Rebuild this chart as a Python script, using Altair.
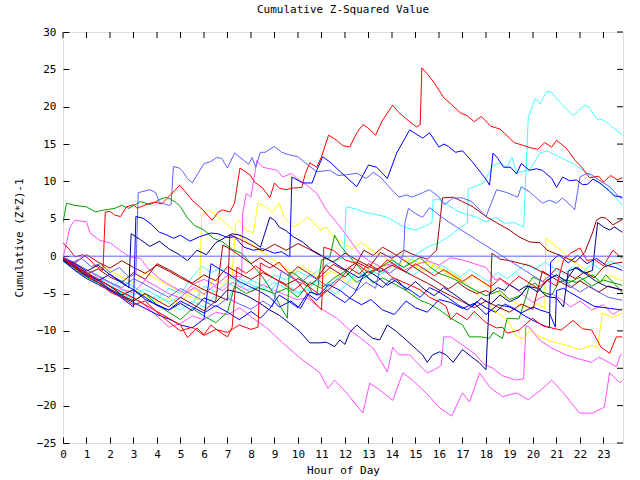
import altair as alt
import pandas as pd

X_TICKS = list(range(0, 24))
Y_TICKS = list(range(-25, 31, 5))

R1 = [(0,1.8),(0.3,0.8),(0.5,-0.1),(0.85,0.2),(1.15,-0.5),(1.35,-1.2),(1.7,-1.9),(1.8,5.9),(2.0,6.0),(2.2,5.5),(2.45,5.3),(2.7,6.6),(3.0,6.9),(3.15,6.4),(3.7,7.1),(3.95,7.2),(4.2,7.0),(4.45,7.8),(4.97,9.5),(5.5,7.5),(5.95,6.2),(6.35,4.8),(6.6,5.9),(6.8,6.2),(7.1,5.9),(7.3,7.1),(7.4,9.2),(7.53,11.8),(7.95,10.9),(8.16,9.9),(8.5,9.1),(8.8,7.8),(9.0,9.8),(9.2,9.1),(9.5,8.9),(9.74,9.1),(10.16,9.2),(10.3,10.9),(10.5,12.5),(10.8,11.9),(11.0,13.3),(11.3,16.2),(11.65,15.5),(11.9,14.8),(12.2,14.6),(12.5,16.5),(12.76,17.6),(12.97,17.2),(13.3,16.2),(13.6,18.2),(14.03,20.2),(14.3,19.2),(14.75,18.0),(15.05,17.3),(15.2,17.6),(15.27,25.2),(15.5,24.4),(15.8,23.2),(16.2,21.2),(16.5,20.4),(16.9,19.2),(17.2,18.8),(17.5,18.0),(17.8,18.7),(18.2,17.4),(18.6,17.0),(19.2,15.2),(19.6,14.8),(19.9,14.5),(20.2,14.3),(20.5,15.2),(20.8,14.6),(21.0,15.5),(21.4,14.5),(21.8,12.8),(22.1,11.8),(22.4,10.5),(22.6,10.6),(22.8,10.7),(23.0,9.9),(23.3,10.8),(23.6,10.2),(23.8,10.5)]

B1 = [(0,-0.2),(0.5,-1.2),(1,-2.4),(1.5,-3.2),(2,-4.5),(2.5,-5.6),(3.0,-6.8),(3.1,5.3),(3.4,5.1),(3.75,4.3),(4.1,3.2),(4.3,3.0),(4.7,2.4),(5.0,2.8),(5.4,2.0),(5.8,2.6),(6.3,3.1),(6.6,3.0),(7.0,2.5),(7.3,2.6),(7.7,1.2),(8.1,0.8),(8.5,1.0),(9.0,0.4),(9.3,0.6),(9.65,-0.1),(9.74,10.6),(10.2,9.8),(10.6,9.8),(10.8,11.5),(11.05,13.3),(11.4,12.5),(11.8,11.3),(12.5,9.3),(13.0,12.2),(13.35,11.9),(13.8,10.4),(14.2,13.8),(14.75,16.9),(15.3,15.8),(15.6,16.5),(16.0,14.6),(16.2,15.0),(16.4,14.7),(16.7,13.9),(17.0,14.1),(17.4,12.7),(17.8,11.1),(18.0,10.3),(18.15,9.5),(18.3,13.8),(18.5,13.1),(18.75,11.9),(19.05,11.9),(19.3,11.0),(19.5,12.4),(19.85,11.5),(20.15,11.7),(20.4,11.5),(20.8,10.4),(21.0,9.2),(21.26,10.6),(21.55,10.1),(21.85,10.2),(22.1,9.6),(22.3,9.6),(22.55,10.3),(22.85,9.8),(23.25,8.7),(23.45,8.1),(23.8,7.9)]

P1 = [(0,-0.2),(0.4,-0.8),(0.8,-0.3),(1.2,-1.4),(1.6,-1.0),(2.0,-2.2),(2.4,-1.5),(2.8,-2.8),(3.1,-2.4),(3.2,8.5),(3.7,8.9),(3.95,8.5),(4.1,7.2),(4.5,6.8),(4.6,6.9),(4.7,12.0),(4.95,11.8),(5.1,11.3),(5.3,10.4),(5.5,9.8),(5.75,11.1),(6.0,12.4),(6.25,12.6),(6.55,13.2),(6.75,13.1),(7.0,11.8),(7.3,13.8),(7.7,12.8),(7.9,12.3),(8.05,13.2),(8.2,11.9),(8.4,13.9),(8.6,13.9),(9.0,14.7),(9.3,13.9),(9.6,13.6),(10.0,13.3),(10.3,12.5),(10.8,11.3),(11.35,11.5),(11.7,10.8),(12.05,10.9),(12.5,11.1),(12.9,10.4),(13.2,11.2),(13.5,10.6),(13.9,9.2),(14.3,7.9),(14.6,8.2),(14.85,7.9),(15.3,8.5),(15.6,8.9),(16.0,7.9),(16.24,6.9),(16.6,7.8),(17.0,7.8),(17.4,7.3),(18.0,5.3),(18.45,8.9),(18.9,8.5),(19.35,7.9),(19.5,9.3),(19.85,8.6),(20.4,7.1),(20.7,7.5),(21.0,7.1),(21.26,7.8),(21.7,6.5),(21.77,6.2),(22.0,10.6),(22.3,11.1),(22.5,10.9),(22.8,10.2),(23.26,9.3),(23.68,7.9),(23.8,7.7)]

C1 = [(0,-0.4),(0.5,-1.3),(1,-2.1),(1.5,-3.0),(2,-3.6),(2.5,-4.5),(3,-5.2),(3.5,-4.4),(4,-5.3),(4.5,-6.1),(5,-5.5),(5.5,-6.4),(6,-4.0),(6.5,-4.8),(7,-3.6),(7.5,-4.3),(8,-3.2),(8.5,-3.9),(9,-2.5),(9.5,-3.2),(10,-2.0),(10.5,-2.8),(11,-1.5),(11.5,-0.6),(11.95,-0.2),(12.05,6.6),(12.5,6.3),(12.8,5.9),(13.3,5.6),(13.8,5.2),(14.2,4.5),(14.5,3.9),(15.0,3.5),(15.4,4.0),(15.7,4.5),(15.75,7.5),(16.0,7.6),(16.4,6.8),(16.8,6.0),(17.2,5.6),(17.6,5.2),(18.0,4.6),(18.4,5.2),(18.8,4.4),(19.2,4.5),(19.6,3.9),(19.8,18.6),(20.1,21.1),(20.3,20.4),(20.6,22.1),(20.8,21.9),(21.2,20.4),(21.7,18.8),(22.2,20.2),(22.4,19.9),(22.7,18.4),(23.0,18.2),(23.3,17.5),(23.8,16.2)]

C2 = [(0,-0.5),(0.5,-1.6),(1,-2.6),(1.5,-3.4),(2,-4.1),(2.5,-5.0),(3,-5.8),(3.5,-6.5),(4,-5.2),(4.5,-6.3),(5,-7.2),(5.5,-6.0),(6,-6.8),(6.5,-5.2),(7,-5.9),(7.5,-3.0),(8,-3.8),(8.5,-4.5),(9,-3.5),(9.5,-4.3),(10,-5.0),(10.4,-4.5),(10.8,-3.2),(11.05,-4.1),(11.5,-3.5),(12,-2.2),(12.5,-3.0),(13,-1.8),(13.5,-2.5),(14,-0.8),(14.5,-1.5),(15,0.2),(15.5,1.2),(16,1.8),(16.5,2.8),(16.8,3.6),(17.2,4.5),(17.25,9.0),(17.6,9.4),(17.9,9.8),(18.3,12.1),(18.6,12.5),(18.9,11.9),(19.1,13.3),(19.3,11.1),(19.6,11.4),(19.85,11.5),(20.3,13.8),(20.6,14.1),(21.1,13.3),(21.7,12.4),(22.3,11.1),(22.8,9.8),(23.25,8.9),(23.8,6.8)]

C3 = [(0,-0.6),(0.5,-1.7),(1,-2.8),(1.5,-3.6),(2,-4.3),(2.5,-3.2),(3,-4.1),(3.5,-5.0),(4,-5.8),(4.5,-4.3),(5,-5.0),(5.5,-2.8),(5.9,-1.3),(6.3,-2.2),(6.7,-1.6),(7.1,-2.8),(7.5,-3.6),(7.8,-4.5),(8.4,-3.9),(8.8,-4.8),(9.2,-3.2),(9.6,-4.0),(10.0,-4.8),(10.4,-4.5),(10.8,-5.3),(11.2,-4.2),(11.6,-5.0),(12.0,-4.0),(12.5,-2.0),(12.9,-2.8),(13.3,-1.5),(13.7,-2.3),(14.1,-1.0),(14.5,-1.8),(14.9,-2.6),(15.3,-1.5),(15.7,-2.3),(16.1,-1.2),(16.5,-2.0),(16.9,-2.8),(17.3,-1.8),(17.7,-2.6),(18.1,-3.4),(18.5,-2.2),(18.9,-3.0),(19.3,-2.0),(19.7,-1.0),(20.1,-1.8),(20.5,-0.8),(20.9,-1.6),(21.3,-2.4),(21.7,-1.4),(22.1,-2.2),(22.5,-1.0),(22.9,-1.8),(23.3,-0.6),(23.8,-1.4)]

M1 = [(0,-0.4),(0.5,-1.5),(1,-2.5),(1.5,-3.2),(2,-4.0),(2.5,-4.8),(3,-5.5),(3.5,-6.6),(4,-8.0),(4.5,-9.5),(5,-9.0),(5.5,-8.0),(6,-8.5),(6.5,-7.5),(7.0,-7.8),(7.53,-6.9),(8.08,-8.3),(8.67,-9.6),(9.35,-11.6),(10.08,-13.6),(10.93,-15.6),(11.27,-17.7),(11.56,-16.6),(12.07,-18.3),(12.76,-21.0),(13.05,-17.0),(13.48,-17.9),(14.03,-19.3),(14.46,-15.6),(14.88,-16.6),(15.48,-18.4),(16.03,-20.3),(16.54,-21.4),(17.0,-18.3),(17.3,-19.5),(17.73,-15.6),(18.15,-17.5),(18.7,-18.8),(19.3,-18.3),(19.8,-19.2),(20.3,-18.0),(20.8,-16.6),(21.26,-18.2),(21.98,-21.0),(22.53,-21.0),(23.04,-20.2),(23.26,-15.6),(23.68,-16.9),(23.8,-16.7)]

M2 = [(0,-0.3),(0.3,3.9),(0.5,4.8),(1.0,4.6),(1.15,3.1),(1.57,2.1),(2.0,1.8),(2.42,0.8),(2.85,-0.1),(3.3,-0.3),(3.6,-1.6),(3.85,-2.3),(4.1,-3.0),(4.4,-3.6),(4.8,-4.3),(5.2,-5.0),(5.6,-4.2),(6.0,-5.1),(6.4,-4.0),(6.8,-4.6),(7.2,-3.5),(7.6,-4.2),(8.0,-4.8),(8.5,-3.8),(8.93,-4.5),(9.95,-5.8),(10.4,-5.6),(10.93,-6.9),(11.65,-8.3),(12.2,-9.9),(12.6,-10.8),(13.2,-12.3),(13.8,-15.5),(14.03,-12.2),(14.3,-13.2),(14.75,-13.2),(15.05,-14.2),(15.5,-15.6),(15.8,-15.2),(16.1,-14.6),(16.2,-10.8),(16.5,-10.8),(17.0,-11.9),(17.5,-13.0),(17.9,-14.4),(18.3,-15.0),(18.7,-16.0),(19.3,-16.6),(19.6,-16.4),(19.7,-9.3),(19.85,-9.5),(20.3,-11.3),(20.8,-12.3),(21.4,-13.2),(22.0,-13.8),(22.5,-14.2),(22.8,-13.5),(23.1,-14.0),(23.55,-14.8),(23.7,-13.3),(23.8,-13.1)]

M4 = [(0,-0.3),(0.5,-1.1),(1,-1.8),(1.5,-2.8),(2,-3.5),(2.5,-4.4),(3,-4.9),(3.5,-3.2),(4,-4.1),(4.5,-5.0),(5,-5.6),(5.5,-3.8),(6,-3.1),(6.5,-3.9),(7,-2.6),(7.6,-2.8),(7.65,5.8),(7.8,8.4),(8.0,7.9),(8.25,12.8),(8.3,12.6),(8.5,11.9),(9.1,11.5),(9.35,10.6),(9.74,11.1),(9.95,10.4),(10.37,9.5),(10.8,8.4),(11.2,6.2),(11.8,3.9),(12.2,2.2),(12.6,0.4),(13.0,-0.6),(13.5,-1.4),(14.0,-1.0),(14.5,-1.9),(15.0,-1.2),(15.5,-0.6),(16.0,-1.2),(16.5,-0.2),(17.0,-0.5),(17.4,-0.9),(18.0,-1.5),(18.4,-3.2),(18.6,-2.9),(18.8,-3.6),(19.2,-4.2),(19.6,-5.2),(20.0,-6.2),(20.3,-5.6),(20.6,-5.2),(20.8,-5.0),(21.2,-5.8),(21.6,-6.8),(22.0,-6.0),(22.5,-7.2),(23.0,-6.5),(23.4,-7.8),(23.8,-7.0)]

G1 = [(0,4.5),(0.15,7.1),(0.5,6.8),(1.0,6.6),(1.4,5.9),(1.6,6.1),(2.2,6.4),(2.5,6.8),(2.8,6.4),(3.3,7.3),(3.7,6.9),(3.95,7.3),(4.2,7.7),(4.4,7.9),(4.6,7.6),(4.8,7.2),(5.0,6.6),(5.3,5.1),(5.6,4.1),(6.0,3.5),(6.4,2.4),(6.8,1.9),(7.2,0.9),(7.6,0.4),(8.0,-1.0),(8.5,-2.8),(9.0,-5.2),(9.3,-7.0),(9.55,-8.3),(9.62,-2.2),(9.78,-2.2),(10.37,-3.6),(10.6,-4.8),(10.8,-5.2),(11.0,-0.5),(11.35,-0.2),(11.56,2.8),(11.78,1.5),(12.2,-0.1),(12.6,-1.5),(13.2,-3.6),(13.6,-2.9),(14.2,-3.9),(14.6,-4.6),(15.2,-5.9),(15.6,-6.4),(16.03,-7.2),(16.5,-8.3),(17.0,-9.2),(17.3,-10.8),(17.8,-10.8),(18.15,-11.0),(18.3,-10.2),(18.7,-11.0),(18.9,-8.3),(19.4,-8.4),(19.7,-5.5),(19.85,-3.9),(20.1,-3.6),(20.4,-4.8),(20.8,-5.2),(21.1,-3.5),(21.4,-3.2),(21.85,-3.5),(22.3,-2.8),(22.55,-2.5),(22.85,-3.5),(23.1,-2.5),(23.5,-3.8),(23.8,-4.9)]

G2 = [(0,-0.6),(0.5,-1.8),(1,-2.8),(1.5,-3.6),(2,-4.5),(2.5,-5.3),(3,-6.0),(3.5,-5.0),(4,-6.5),(4.5,-7.5),(5,-8.5),(5.5,-7.0),(6,-8.0),(6.5,-8.9),(7,-7.5),(7.3,-4.0),(7.8,-5.0),(8.3,-4.2),(9,-5.0),(9.5,-4.3),(10,-5.5),(10.5,-3.5),(11,-4.3),(11.5,-3.0),(12,-2.0),(12.5,-3.5),(13,-2.5),(13.5,-1.5),(14,-0.5),(14.5,-1.5),(15.2,-0.2),(15.6,-1.4),(16,-2.3),(16.45,-2.8),(17,-3.6),(17.5,-4.5),(18,-5.3),(18.6,-4.6),(19,-5.8),(19.5,-5.2),(20,-2.8),(20.5,-3.5),(21,-2.5),(21.5,-3.6),(22,-2.8),(22.5,-4.0),(23,-3.2),(23.8,-3.9)]

N1 = [(0,-0.5),(0.5,-1.5),(1,-2.6),(1.5,-3.1),(2,-4.0),(2.5,-5.2),(3,-4.5),(3.5,-5.8),(4,-6.5),(4.5,-7.2),(5,-6.3),(5.5,-7.3),(6,-5.6),(6.5,-6.2),(7,-4.5),(7.53,-4.9),(7.95,-5.5),(8.37,-6.3),(8.8,-7.2),(9.2,-7.9),(9.65,-9.0),(10.08,-10.1),(10.5,-11.6),(10.93,-11.6),(11.2,-11.5),(11.56,-12.1),(11.78,-11.2),(12.0,-11.8),(12.2,-10.2),(12.5,-9.2),(12.76,-9.9),(13.18,-11.0),(13.48,-11.2),(13.8,-9.2),(14.2,-10.1),(14.6,-11.2),(15.05,-12.5),(15.3,-13.2),(15.5,-14.2),(15.73,-13.2),(16.03,-12.8),(16.3,-13.2),(16.6,-14.2),(17.0,-12.5),(17.4,-13.5),(17.7,-14.2),(18.0,-15.2),(18.15,-5.0),(18.5,-4.2),(18.8,-4.6),(19.0,-3.8),(19.4,-4.6),(19.7,-4.0),(20.2,-4.3),(20.6,-5.4),(21.0,-5.6),(21.3,-6.8),(21.5,-2.0),(21.9,-1.5),(22.3,-2.5),(22.7,-3.4),(23.1,-4.0),(23.8,-4.5)]

N2 = [(0,-0.3),(0.5,-1.0),(1,-2.0),(1.5,-1.2),(2,-2.5),(2.5,-3.4),(2.8,-4.2),(2.9,3.0),(3.3,2.2),(3.7,1.3),(4.1,2.0),(4.5,1.0),(4.9,0.3),(5.3,-0.6),(5.7,0.8),(6.1,0.2),(6.5,1.8),(6.9,2.5),(7.2,3.0),(7.53,2.8),(7.8,2.4),(8.1,1.9),(8.4,1.2),(8.8,5.2),(9.0,4.8),(9.2,3.9),(9.45,3.5),(9.8,2.6),(10.2,1.9),(10.6,0.8),(11.0,0.1),(11.4,-0.6),(11.8,-1.4),(12.2,-2.2),(12.6,-2.9),(13.0,-2.0),(13.4,-2.8),(13.8,-3.9),(14.2,-3.1),(14.6,-4.5),(15.0,-3.4),(15.4,-4.5),(15.8,-5.3),(16.2,-4.2),(16.6,-5.0),(17.0,-5.9),(17.4,-6.8),(17.8,-5.6),(18.2,-6.4),(18.6,-5.2),(19.0,-6.1),(19.4,-5.5),(19.8,-4.0),(20.2,-4.8),(20.6,-3.2),(21.0,-2.5),(21.4,-3.3),(21.8,-1.5),(22.2,-2.3),(22.53,-1.9),(22.75,4.5),(23.0,3.9),(23.26,3.5),(23.47,3.9),(23.8,3.2)]

B2 = [(0,-0.6),(0.5,-1.9),(1,-3.0),(1.5,-3.8),(2,-4.6),(2.5,-5.4),(3,-6.2),(3.5,-7.0),(4,-7.8),(4.5,-8.4),(5,-9.2),(5.5,-9.6),(6,-8.4),(6.3,-1.0),(6.7,-1.8),(7.1,-2.5),(7.5,-3.4),(7.9,-4.0),(8.3,-4.6),(8.8,-5.5),(9.2,-6.8),(9.7,-6.0),(10.1,-7.0),(10.5,-4.8),(10.9,-5.2),(11.3,-3.8),(11.8,-4.6),(12.2,-5.6),(12.7,-6.5),(13.1,-5.8),(13.6,-7.2),(14.1,-7.8),(14.6,-6.0),(15.0,-6.9),(15.5,-7.5),(16.0,-5.8),(16.5,-6.2),(17.0,-7.0),(17.5,-6.3),(18.0,-7.8),(18.5,-6.5),(19.0,-6.8),(19.5,-7.6),(20.0,-6.8),(20.3,-7.2),(20.7,-7.6),(20.95,-9.5),(21.0,-4.6),(21.3,-4.3),(21.6,-4.9),(22.1,-5.8),(22.6,-6.7),(23.3,-7.0),(23.8,-7.2)]

B3 = [(0,-0.2),(0.5,-1.4),(1,-2.2),(1.5,-3.3),(2,-2.4),(2.5,-3.6),(3,-4.5),(3.5,-5.5),(4,-6.6),(4.5,-7.2),(5,-6.0),(5.5,-6.8),(6,-7.6),(6.5,-6.6),(7,-7.5),(7.5,-8.5),(8,-7.4),(8.4,-8.3),(8.8,-7.0),(9.2,-5.2),(9.6,-6.0),(10,-6.9),(10.4,-5.0),(10.8,-5.9),(11.2,-4.5),(11.6,-5.4),(12,-6.2),(12.4,-5.0),(12.8,-2.5),(13.2,-3.4),(13.6,-4.2),(14,-3.0),(14.4,-3.9),(14.8,-4.6),(15.2,-5.5),(15.6,-4.2),(16,-4.8),(16.4,-5.6),(16.8,-6.5),(17.2,-7.2),(17.6,-6.1),(18.0,-6.9),(18.4,-7.5),(18.8,-6.4),(19.2,-7.0),(19.6,-7.9),(20.0,-8.6),(20.4,-9.2),(20.7,-9.6),(20.75,-0.8),(21.1,0.2),(21.5,-0.9),(21.9,0.1),(22.3,-1.0),(22.7,-0.3),(23.1,-1.2),(23.5,-1.5),(23.8,-1.9)]

P2 = [(0,-0.1),(0.5,-0.9),(1,-1.8),(1.5,-2.6),(2,-3.5),(2.5,-4.2),(3,-3.0),(3.5,-3.8),(4,-4.7),(4.5,-5.5),(5,-4.3),(5.5,-5.2),(6,-6.0),(6.5,-6.8),(7,-5.6),(7.5,-6.4),(8,-7.1),(8.5,-6.0),(8.9,-6.8),(9.3,-2.0),(9.7,-2.8),(10.1,-3.6),(10.5,-2.5),(10.9,-3.3),(11.3,-4.1),(11.7,-3.0),(12.1,-3.8),(12.5,-4.6),(12.9,-3.5),(13.3,-4.3),(13.5,-1.5),(13.9,-2.3),(14.3,-1.3),(14.5,0.5),(14.55,4.5),(14.7,6.4),(15.0,5.7),(15.3,5.2),(15.6,6.5),(16.0,5.5),(16.4,4.6),(16.8,3.8),(17.2,3.0),(17.6,2.2),(18.0,1.4),(18.4,0.6),(18.8,-0.2),(19.2,-1.0),(19.6,-1.8),(20.0,-2.6),(20.4,-3.4),(20.8,-2.4),(21.2,-3.2),(21.6,-4.0),(22.0,-4.8),(22.4,-4.0),(22.8,-4.8),(23.2,-5.5),(23.8,-5.9)]

RA = [(0,-0.3),(0.5,-1.5),(1,-2.3),(1.5,-3.5),(2,-4.8),(2.5,-5.5),(3,-6.5),(3.5,-6.0),(4,-7.5),(4.5,-8.8),(5,-10.0),(5.5,-9.5),(6,-10.6),(6.5,-9.8),(7,-10.2),(7.5,-9.2),(8.0,-9.8),(8.3,-9.5),(8.4,-0.9),(8.8,-1.6),(9.2,-0.8),(9.6,-2.3),(10.0,-3.5),(10.5,-5.5),(11.0,-7.2),(11.1,1.2),(11.5,0.8),(12,-0.5),(12.5,-1.0),(13,-2.2),(13.5,-1.5),(14,-2.8),(14.5,-3.5),(15.2,-4.5),(15.6,-5.5),(16.0,-6.1),(16.3,-6.7),(16.5,-8.5),(16.75,-7.6),(17.2,-8.5),(17.5,-7.4),(18.0,-8.9),(18.45,-9.6),(18.7,-9.5),(18.9,-10.3),(19.4,-9.9),(19.98,-8.3),(20.4,-9.3),(20.8,-9.6),(21.2,-9.9),(21.7,-8.6),(22.1,-9.7),(22.5,-9.9),(22.9,-12.2),(23.26,-13.0),(23.55,-10.8),(23.8,-10.8)]

R4 = [(0,-0.2),(0.5,-1.2),(1,-2.2),(1.5,-3.1),(2,-4.0),(2.5,-4.8),(3,-5.6),(3.5,-6.5),(4,-7.4),(4.5,-8.3),(5,-9.2),(5.3,-10.9),(5.7,-9.6),(6.0,-10.5),(6.3,-9.2),(6.6,-10.0),(7.0,-10.8),(7.2,-9.5),(7.4,-1.5),(7.8,-2.3),(8.2,-1.3),(8.6,-2.2),(9.0,-3.0),(9.4,-3.8),(9.8,-4.6),(10.2,-3.6),(10.6,-4.4),(11.0,-5.3),(11.4,-4.2),(11.8,-3.0),(12.2,-1.6),(12.6,-2.4),(13.0,-1.0),(13.4,-1.8),(13.8,-0.5),(14.2,-1.3),(14.6,-2.1),(15.0,-1.0),(15.4,-1.8),(15.8,-2.6),(16.2,-1.8),(16.6,-2.6),(17.0,-3.4),(17.4,-2.5),(17.8,-3.3),(18.2,-4.1),(18.6,-3.0),(19.0,-3.8),(19.4,-2.7),(19.8,-3.5),(20.2,-4.3),(20.6,-3.2),(21.0,-4.0),(21.3,-0.5),(21.6,0.4),(22.0,1.1),(22.3,-0.6),(22.6,-0.4),(23.0,-1.3),(23.4,0.8),(23.8,-0.3)]

DR1 = [(0,-0.4),(0.5,-1.3),(1,-2.4),(1.5,-1.7),(2,-2.8),(2.5,-3.5),(3,-2.2),(3.5,-3.1),(4,-1.0),(4.5,-1.8),(5,-2.7),(5.5,-3.6),(6,-2.5),(6.5,-3.3),(7,-1.4),(7.5,-2.3),(8,-3.1),(8.5,-2.2),(9,-3.0),(9.5,-3.8),(10,-3.0),(10.5,-3.9),(11,-2.6),(11.5,-1.1),(12,-1.9),(12.5,-0.8),(13,-1.6),(13.5,0.5),(14,-0.3),(14.5,0.8),(15,0.1),(15.5,-0.4),(15.9,0.8),(16.15,7.8),(16.6,7.9),(17.0,7.3),(17.45,6.6),(18.0,5.3),(18.6,4.2),(19.0,3.5),(19.4,2.6),(19.85,1.9),(20.3,1.8),(20.6,0.8),(21.0,0.3),(21.4,-0.2),(21.8,-0.8),(22.2,0.5),(22.53,3.1),(22.7,4.8),(22.9,5.2),(23.1,5.1),(23.4,4.2),(23.8,4.9)]

DR2 = [(0,-0.5),(0.5,-1.6),(1,-2.7),(1.5,-3.5),(2,-4.4),(2.5,-5.2),(3,-6.0),(3.5,-5.0),(4,-5.9),(4.5,-6.8),(5,-5.5),(5.5,-6.4),(6,-7.3),(6.5,-6.0),(6.8,1.5),(7.2,0.8),(7.6,-0.1),(8,-1.0),(8.4,-0.2),(8.8,-1.0),(9.2,-1.8),(9.6,-2.6),(10,-1.4),(10.4,-2.2),(10.8,-3.0),(11.2,-1.2),(11.6,-2.0),(12,-2.8),(12.4,-1.5),(12.8,0.8),(13.2,0.1),(13.6,1.2),(14,0.5),(14.4,-0.3),(14.8,-1.2),(15.2,-2.0),(15.6,-2.8),(16,-3.6),(16.4,-4.4),(16.8,-3.5),(17.2,-4.4),(17.6,-5.0),(18.0,-4.6),(18.2,-5.0),(18.25,0.4),(18.6,-0.4),(19.0,-0.6),(19.5,-1.0),(19.9,-1.3),(20.3,-2.0),(20.7,-2.6),(21.0,-1.6),(21.4,-2.3),(21.8,-3.0),(22.2,-2.1),(22.6,-2.9),(23.0,-1.5),(23.4,-1.0),(23.8,-0.8)]

DR3 = [(0,-0.2),(0.5,-0.9),(1,0.2),(1.5,-0.8),(2,-1.6),(2.5,-0.6),(3,-1.5),(3.5,-2.3),(4,-1.2),(4.5,-2.0),(5,-2.9),(5.5,-3.7),(6,-4.5),(6.5,-5.2),(7.0,-5.9),(7.1,2.9),(7.5,2.3),(8,1.5),(8.5,0.7),(9,1.6),(9.5,0.8),(10,1.7),(10.5,0.9),(11,0.0),(11.5,-0.8),(12,0.4),(12.5,-0.5),(13,-1.3),(13.5,-2.1),(14,-1.2),(14.5,-2.0),(15,-2.8),(15.5,-3.6),(16,-4.5),(16.5,-5.3),(17,-6.1),(17.5,-6.9),(18,-6.0),(18.5,-6.8),(19,-7.5),(19.5,-6.4),(20,-7.1),(20.4,-2.0),(20.8,-2.8),(21.2,-3.5),(21.6,-4.2),(22,-3.3),(22.4,-4.1),(22.8,-4.8),(23.2,-4.0),(23.8,-4.6)]

Y1 = [(0,-0.4),(0.5,-1.4),(1,-2.4),(1.5,-3.3),(2,-4.2),(2.5,-5.1),(3,-4.4),(3.5,-5.3),(4,-6.2),(4.5,-5.6),(5,-6.4),(5.5,-4.4),(6,-5.2),(6.4,-3.0),(6.8,-3.8),(7.2,-2.5),(7.35,4.4),(7.5,4.8),(7.8,3.5),(8.1,3.1),(8.3,7.1),(8.67,6.6),(8.9,5.8),(9.2,7.1),(9.4,5.3),(9.8,3.9),(10.1,4.4),(10.37,5.2),(10.6,4.8),(10.93,3.5),(11.2,3.9),(11.5,2.6),(11.9,1.8),(12.3,1.0),(12.7,1.8),(13.1,0.9),(13.5,0.2),(13.9,-0.6),(14.3,0.4),(14.7,-0.3),(15.2,-0.9),(15.6,-0.8),(16.0,-1.6),(16.45,-2.1),(17.0,-3.2),(17.4,-4.3),(18.0,-6.3),(18.45,-7.5),(18.9,-8.5),(19.3,-10.8),(19.6,-11.0),(19.85,-9.9),(20.3,-10.8),(20.8,-11.4),(21.4,-11.9),(21.98,-12.5),(22.5,-11.9),(22.75,-12.3),(22.95,-7.6),(23.35,-8.2),(23.8,-7.6)]

Y2 = [(0,-0.5),(0.5,-1.5),(1,-2.1),(1.5,-1.0),(2,-1.9),(2.5,-2.8),(3,-3.6),(3.5,-2.2),(4,-3.1),(4.5,-3.9),(5,-4.8),(5.5,-5.5),(5.8,-5.9),(5.9,5.5),(6.2,6.2),(6.5,5.5),(6.8,4.8),(7.1,3.9),(7.4,3.0),(7.8,2.1),(8.2,1.2),(8.6,0.3),(9.0,-0.6),(9.4,-1.4),(9.8,-2.3),(10.2,-1.4),(10.6,-2.2),(11.0,-3.0),(11.4,-2.0),(11.8,-2.8),(12.2,-3.7),(12.6,-2.8),(13.0,-1.6),(13.4,-2.4),(13.8,-0.9),(14.2,-1.7),(14.6,-0.5),(15.0,-1.3),(15.4,-2.1),(15.8,-1.2),(16.2,-2.0),(16.6,-2.8),(17.0,-3.6),(17.4,-2.6),(17.8,-3.4),(18.2,-4.2),(18.6,-5.0),(19.0,-5.8),(19.4,-6.5),(19.8,-7.2),(20.2,-6.3),(20.5,-7.0),(20.55,2.4),(20.9,1.5),(21.3,0.5),(21.7,-0.6),(22.1,-1.5),(22.5,-2.5),(22.9,-3.4),(23.3,-2.6),(23.8,-3.3)]

SERIES = [
    ("Y2", "#ffff00", Y2), ("Y1", "#ffff00", Y1),
    ("C3", "#40ffff", C3), ("C2", "#40ffff", C2), ("C1", "#40ffff", C1),
    ("M4", "#ff50ff", M4), ("M2", "#ff50ff", M2), ("M1", "#ff50ff", M1),
    ("G2", "#00a000", G2), ("G1", "#00a000", G1),
    ("DR3", "#a80000", DR3), ("DR2", "#a80000", DR2), ("DR1", "#a80000", DR1),
    ("P2", "#6060ff", P2), ("P1", "#6060ff", P1),
    ("N2", "#000090", N2), ("N1", "#000090", N1),
    ("B3", "#0000ff", B3), ("B2", "#0000ff", B2), ("B1", "#0000ff", B1),
    ("R4", "#ff0000", R4), ("RA", "#ff0000", RA), ("R1", "#ff0000", R1),
]

rows = []
for name, color, pts in SERIES:
    for i, (h, v) in enumerate(pts):
        rows.append({"series": name, "hour": h, "value": v, "idx": i})
df = pd.DataFrame(rows)

names = [s[0] for s in SERIES]
colors = [s[1] for s in SERIES]

FONT = "DejaVu Sans Mono"
FS = 11
xscale = alt.Scale(domain=[0, 23.83], nice=False, zero=False)
yscale = alt.Scale(domain=[-25, 30], nice=False, zero=False)

common = dict(domain=False, grid=False, ticks=True, tickSize=6, offset=-6,
              tickColor="black", tickWidth=1, labelFont=FONT, labelFontSize=FS,
              labelColor="black", titleFont=FONT, titleFontSize=FS,
              titleFontWeight="normal", titleColor="black",
              labelFlush=False, labelOverlap=False)

XAXIS = alt.Axis(orient="bottom", values=X_TICKS, labelPadding=5,
                 title="Hour of Day", titlePadding=5, labelAngle=0, **common)
YAXIS = alt.Axis(orient="left", values=Y_TICKS, labelPadding=7,
                 title="Cumulative (Z*Z)-1", titlePadding=12, **common)

lines = alt.Chart(df).mark_line(strokeWidth=1, clip=True).encode(
    x=alt.X("hour:Q", scale=xscale, axis=XAXIS),
    y=alt.Y("value:Q", scale=yscale, axis=YAXIS),
    color=alt.Color("series:N", scale=alt.Scale(domain=names, range=colors), legend=None),
    detail="series:N",
    order="idx:Q",
)

zero = alt.Chart(pd.DataFrame({"value": [0]})).mark_rule(color="#6060ff", strokeWidth=1).encode(
    y=alt.Y("value:Q", scale=yscale, axis=YAXIS),
)

top_ticks = alt.Chart(pd.DataFrame({"hour": X_TICKS})).mark_rule(color="black", strokeWidth=1).encode(
    x=alt.X("hour:Q", scale=xscale, axis=XAXIS),
    y=alt.value(0), y2=alt.value(6),
)

right_ticks = alt.Chart(pd.DataFrame({"value": Y_TICKS})).mark_rule(color="black", strokeWidth=1).encode(
    y=alt.Y("value:Q", scale=yscale, axis=YAXIS),
    x=alt.value(554), x2=alt.value(560),
)

chart = alt.layer(lines, zero, top_ticks, right_ticks).properties(
    width=560, height=411,
    autosize=alt.AutoSizeParams(type="none"),
    padding={"left": 63, "top": 32, "right": 17, "bottom": 37},
    title=alt.TitleParams("Cumulative Z-Squared Value", font=FONT, fontSize=FS,
                          fontWeight="normal", color="black", anchor="middle", offset=11),
).configure_view(stroke="black", strokeWidth=1).configure(background="white")

chart.save("out.html", embed_options={"renderer": "svg", "actions": False})
